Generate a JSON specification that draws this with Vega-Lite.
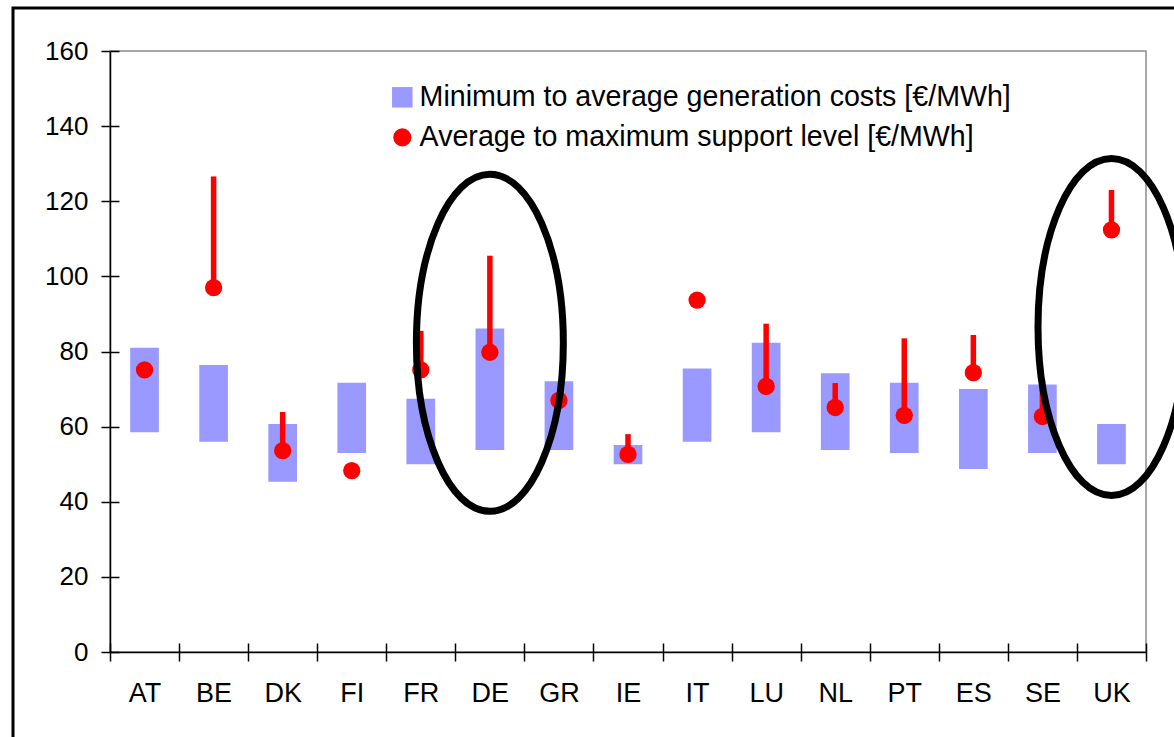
{
  "$schema": "https://vega.github.io/schema/vega-lite/v6.json",
  "autosize": {"type": "none"},
  "padding": {"left": 110, "top": 51, "right": 28, "bottom": 85},
  "width": 1036,
  "height": 601,
  "background": "white",
  "config": {
    "font": "Liberation Sans",
    "view": {"stroke": "#8c8c8c", "strokeWidth": 1.5},
    "axis": {"grid": false, "title": null, "labelColor": "black", "tickColor": "black", "domainColor": "black", "tickWidth": 1.5, "domainWidth": 1.5, "labelFont": "Liberation Sans"}
  },
  "datasets": {
    "costs": [
      {"country": "AT", "gen_min": 58.5, "gen_avg": 81.0, "sup_avg": 75.1, "sup_max": null},
      {"country": "BE", "gen_min": 56.0, "gen_avg": 76.4, "sup_avg": 97.0, "sup_max": 126.6},
      {"country": "DK", "gen_min": 45.3, "gen_avg": 60.7, "sup_avg": 53.6, "sup_max": 63.9},
      {"country": "FI", "gen_min": 53.0, "gen_avg": 71.7, "sup_avg": 48.3, "sup_max": null},
      {"country": "FR", "gen_min": 50.0, "gen_avg": 67.4, "sup_avg": 75.1, "sup_max": 85.5},
      {"country": "DE", "gen_min": 53.8, "gen_avg": 86.1, "sup_avg": 79.8, "sup_max": 105.5},
      {"country": "GR", "gen_min": 53.8, "gen_avg": 72.1, "sup_avg": 67.0, "sup_max": null},
      {"country": "IE", "gen_min": 50.0, "gen_avg": 55.1, "sup_avg": 52.6, "sup_max": 58.0},
      {"country": "IT", "gen_min": 56.0, "gen_avg": 75.5, "sup_avg": 93.7, "sup_max": null},
      {"country": "LU", "gen_min": 58.5, "gen_avg": 82.3, "sup_avg": 70.7, "sup_max": 87.4},
      {"country": "NL", "gen_min": 53.8, "gen_avg": 74.2, "sup_avg": 65.1, "sup_max": 71.6},
      {"country": "PT", "gen_min": 53.0, "gen_avg": 71.7, "sup_avg": 63.0, "sup_max": 83.5},
      {"country": "ES", "gen_min": 48.7, "gen_avg": 70.0, "sup_avg": 74.4, "sup_max": 84.4},
      {"country": "SE", "gen_min": 53.0, "gen_avg": 71.2, "sup_avg": 62.7, "sup_max": 72.5},
      {"country": "UK", "gen_min": 50.0, "gen_avg": 60.7, "sup_avg": 112.4, "sup_max": 123.0}
    ],
    "highlights": [
      {"country": "DE", "center": 82.3},
      {"country": "UK", "center": 86.5}
    ]
  },
  "resolve": {"axis": {"x": "independent", "y": "independent"}},
  "layer": [
    {
      "data": {"values": [{}]},
      "mark": {"type": "rect", "filled": false, "stroke": "black", "strokeWidth": 3},
      "encoding": {
        "x": {"value": -97},
        "x2": {"value": 1110},
        "y": {"value": -43},
        "y2": {"value": 720}
      }
    },
    {
      "data": {"name": "costs"},
      "mark": {"type": "bar", "width": {"band": 0.415}, "color": "#9999FF"},
      "encoding": {
        "x": {
          "field": "country", "type": "nominal", "sort": null,
          "scale": {"paddingInner": 0, "paddingOuter": 0},
          "axis": {"orient": "bottom", "tickBand": "extent", "tickSize": 9, "labelFontSize": 27, "labelPadding": 19, "labelAngle": 0}
        },
        "y": {
          "field": "gen_min", "type": "quantitative",
          "scale": {"domain": [0, 160], "nice": false},
          "axis": {"orient": "left", "values": [0, 20, 40, 60, 80, 100, 120, 140, 160], "tickSize": 9, "labelFontSize": 26, "labelPadding": 13}
        },
        "y2": {"field": "gen_avg"},
        "color": {
          "datum": "Minimum to average generation costs [€/MWh]",
          "scale": {
            "domain": ["Minimum to average generation costs [€/MWh]", "Average to maximum support level [€/MWh]"],
            "range": ["#9999FF", "#FF0000"]
          },
          "legend": {
            "orient": "none", "legendX": 278, "legendY": 32, "title": null,
            "labelFontSize": 28.6, "labelColor": "black", "padding": 0, "rowPadding": 11,
            "labelOffset": 3, "labelLimit": 0, "symbolStrokeWidth": 0, "symbolOpacity": 1,
            "encode": {"symbols": {"update": {
              "size": {"signal": "datum.index === 0 ? 420 : 330"},
              "shape": {"signal": "datum.index === 0 ? 'square' : 'circle'"}
            }}}
          }
        }
      }
    },
    {
      "data": {"name": "costs"},
      "transform": [{"filter": "datum.sup_max != null"}],
      "mark": {"type": "rule", "color": "#FF0000", "strokeWidth": 5.5},
      "encoding": {
        "x": {
          "field": "country", "type": "nominal", "sort": null,
          "axis": {"orient": "bottom", "offset": -9, "tickBand": "extent", "tickSize": 9, "labels": false, "domain": false}
        },
        "y": {
          "field": "sup_avg", "type": "quantitative",
          "axis": {"orient": "left", "offset": -9, "values": [0, 20, 40, 60, 80, 100, 120, 140, 160], "tickSize": 9, "labels": false, "domain": false}
        },
        "y2": {"field": "sup_max"}
      }
    },
    {
      "data": {"name": "costs"},
      "mark": {"type": "point", "filled": true, "opacity": 1, "size": 300, "shape": "circle"},
      "encoding": {
        "x": {"field": "country", "type": "nominal", "sort": null, "axis": null},
        "y": {"field": "sup_avg", "type": "quantitative", "axis": null},
        "color": {"datum": "Average to maximum support level [€/MWh]"}
      }
    },
    {
      "data": {"name": "highlights"},
      "mark": {
        "type": "point", "filled": false, "stroke": "black", "strokeWidth": 7, "opacity": 1, "size": 113569,
        "shape": "M0,-1 C0.2408,-1 0.436,-0.5523 0.436,0 C0.436,0.5523 0.2408,1 0,1 C-0.2408,1 -0.436,0.5523 -0.436,0 C-0.436,-0.5523 -0.2408,-1 0,-1 Z"
      },
      "encoding": {
        "x": {"field": "country", "type": "nominal", "sort": null, "axis": null},
        "y": {"field": "center", "type": "quantitative", "axis": null}
      }
    }
  ]
}
